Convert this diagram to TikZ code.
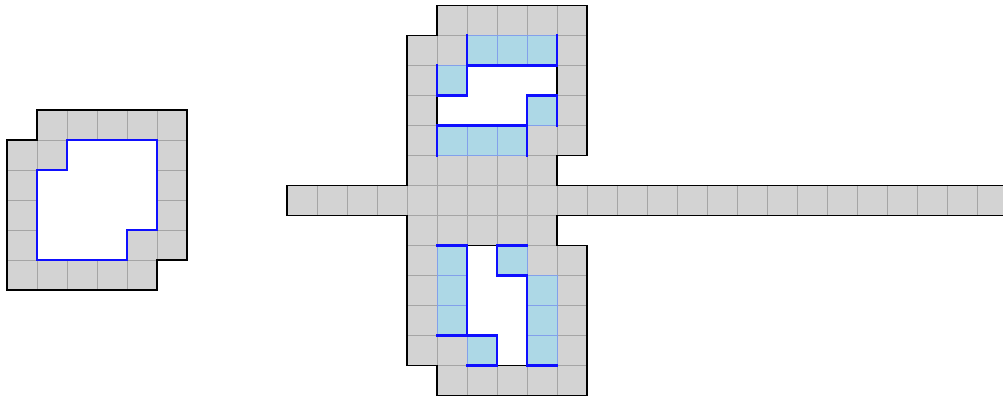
\documentclass[tikz,border=0pt]{standalone}
\definecolor{cellgray}{RGB}{211,211,211}
\definecolor{gridgray}{RGB}{165,165,165}
\definecolor{cellblue}{RGB}{173,216,230}
\definecolor{blueedge}{RGB}{130,160,235}
\definecolor{lineblue}{RGB}{15,15,255}
\tikzset{
  gridline/.style={draw=gridgray,line width=0.55pt},
  bluecell/.style={fill=cellblue,draw=blueedge,line width=0.55pt},
  thickblue/.style={draw=lineblue,line width=1.2pt,line cap=rect,line join=miter},
  thickblack/.style={draw=black,line width=0.9pt},
  outline/.style={draw=black,line width=1.1pt,line join=miter},
}
\begin{document}
\begin{tikzpicture}[x=0.6cm,y=-0.6cm]
\useasboundingbox (0,0) rectangle (33.4333,13.2);
\clip (0,0) rectangle (33.4333,13.2);

% ---------- left shape ----------
\begin{scope}[shift={(0.23333,3.66667)}]
  \def\leftouter{(1,0)--(6,0)--(6,5)--(5,5)--(5,6)--(0,6)--(0,1)--(1,1)--cycle}
  \def\lefthole{(2,1)--(5,1)--(5,4)--(4,4)--(4,5)--(1,5)--(1,2)--(2,2)--cycle}
  \fill[cellgray] \leftouter;
  \begin{scope}
    \clip \leftouter;
    \foreach \i in {0,...,6} {\draw[gridline] (\i,0)--(\i,6);}
    \foreach \j in {0,...,6} {\draw[gridline] (0,\j)--(6,\j);}
  \end{scope}
  \fill[white] \lefthole;
  \draw[thickblue] \lefthole;
  \draw[outline] \leftouter;
\end{scope}

% ---------- right shape ----------
\begin{scope}[shift={(13.56667,0.18333)}]
  \def\rightouter{(1,0)--(6,0)--(6,5)--(5,5)--(5,6)--(21,6)--(21,7)--(5,7)--(5,8)--(6,8)--(6,13)--(1,13)--(1,12)--(0,12)--(0,7)--(-4,7)--(-4,6)--(0,6)--(0,1)--(1,1)--cycle}
  \fill[cellgray] \rightouter;
  \begin{scope}
    \clip \rightouter;
    \foreach \i in {-4,...,21} {\draw[gridline] (\i,0)--(\i,13);}
    \foreach \j in {0,...,13} {\draw[gridline] (-4,\j)--(21,\j);}
  \end{scope}
  % holes
  \fill[white] (2,2)--(5,2)--(5,3)--(4,3)--(4,4)--(1,4)--(1,3)--(2,3)--cycle;
  \fill[white] (2,8)--(3,8)--(3,9)--(4,9)--(4,12)--(3,12)--(3,11)--(2,11)--cycle;
  % blue cells
  \foreach \c/\r in {2/1,3/1,4/1,1/2,4/3,1/4,2/4,3/4,1/8,1/9,1/10,3/8,4/9,4/10,4/11,2/11}
    {\path[bluecell] (\c,\r) rectangle ++(1,1);}
  % hole edges against gray cells
  \draw[thickblack] (5,2)--(5,3);
  \draw[thickblack] (1,3)--(1,4);
  \draw[thickblack] (2,8)--(3,8);
  \draw[thickblack] (3,12)--(4,12);
  % thick blue lines, upper part
  \draw[thickblue] (1,2)--(1,3)--(2,3)--(2,1);
  \draw[thickblue] (2,2)--(5,2);
  \draw[thickblue] (5,1)--(5,2);
  \draw[thickblue] (5,4)--(5,3)--(4,3)--(4,5);
  \draw[thickblue] (1,5)--(1,4)--(4,4);
  % thick blue lines, lower part
  \draw[thickblue] (1,8)--(2,8)--(2,11);
  \draw[thickblue] (1,11)--(3,11)--(3,12)--(2,12);
  \draw[thickblue] (4,8)--(3,8)--(3,9)--(4,9)--(4,12)--(5,12);
  \draw[outline] \rightouter;
\end{scope}
\end{tikzpicture}
\end{document}
